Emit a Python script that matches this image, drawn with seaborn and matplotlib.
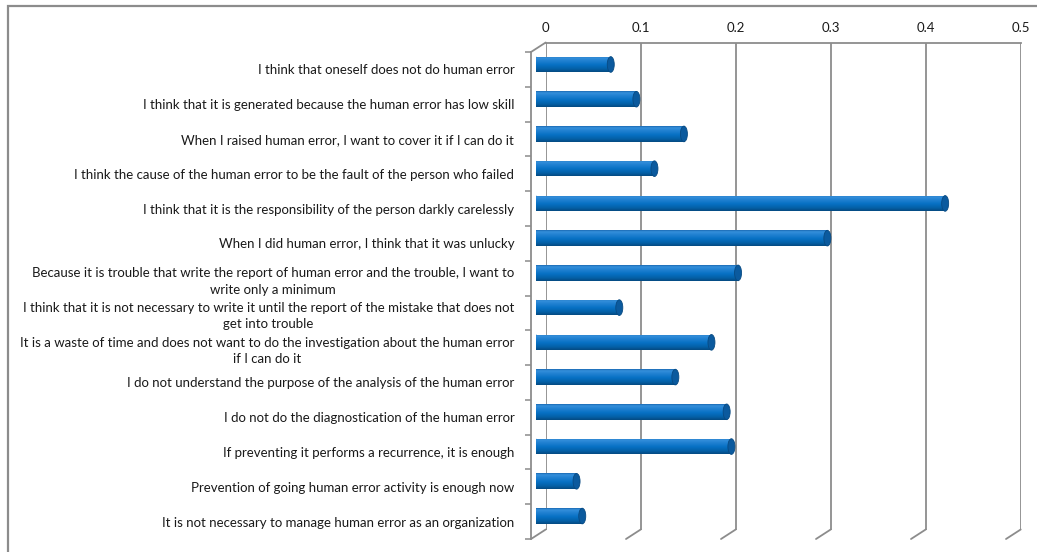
import numpy as np
import matplotlib
matplotlib.use("Agg")
import matplotlib.pyplot as plt
from matplotlib.patches import Ellipse, Rectangle
from matplotlib.lines import Line2D
from matplotlib.colors import LinearSegmentedColormap
import seaborn as sns

# ---- data -------------------------------------------------------------
categories = [
    "I think that oneself does not do human error",
    "I think that it is generated because the human error has low skill",
    "When I raised human error, I want to cover it if I can do it",
    "I think the cause of the human error to be the fault of the person who failed",
    "I think that it is the responsibility of the person darkly carelessly",
    "When I did human error, I think that it was unlucky",
    "Because it is trouble that write the report of human error and the trouble, I want to\nwrite only a minimum",
    "I think that it is not necessary to write it until the report of the mistake that does not\nget into trouble",
    "It is a waste of time and does not want to do the investigation about the human error\nif I can do it",
    "I do not understand the purpose of the analysis of the human error",
    "I do not do the diagnostication of the human error",
    "If preventing it performs a recurrence, it is enough",
    "Prevention of going human error activity is enough now",
    "It is not necessary to manage human error as an organization",
]
values = [0.079, 0.106, 0.156, 0.125, 0.431, 0.307, 0.213,
          0.088, 0.185, 0.147, 0.201, 0.206, 0.043, 0.049]
tick_values = [0.0, 0.1, 0.2, 0.3, 0.4, 0.5]
tick_labels = ["0", "0.1", "0.2", "0.3", "0.4", "0.5"]

# ---- style ------------------------------------------------------------
sns.set_style("white")
plt.rcParams["font.family"] = ["Lato", "DejaVu Sans"]
GRID = "#8c8c8c"
TEXT = "#1a1a1a"
FS = 9.5

W, H = 1037, 552
fig = plt.figure(figsize=(W / 100, H / 100), dpi=100)
fig.patch.set_facecolor("white")


def box(x, y_top, y_bot, w=475):
    return [x / W, 1 - y_bot / H, w / W, (y_bot - y_top) / H]


# back wall (grid + value axis), front plane (category axis), bar plane
ax_back = fig.add_axes(box(545.7, 42.5, 529.5))
ax_front = fig.add_axes(box(531.0, 52.0, 539.0))
ax_bars = fig.add_axes(box(535.7, 47.1, 533.4))
for a in (ax_back, ax_front, ax_bars):
    a.set_facecolor("none")
    a.set_xlim(0, 0.5)

# back wall: top edge, vertical gridlines, value labels on top
for s in ("left", "right", "bottom"):
    ax_back.spines[s].set_visible(False)
ax_back.spines["top"].set_color(GRID)
ax_back.spines["top"].set_linewidth(1.3)
ax_back.xaxis.tick_top()
ax_back.set_xticks(tick_values, labels=tick_labels)
ax_back.set_yticks([])
ax_back.tick_params(axis="x", length=0, pad=6, labelsize=FS, labelcolor=TEXT)
ax_back.grid(axis="x", color=GRID, linewidth=1.3)
ax_back.grid(axis="y", visible=False)

# front plane: left axis with category labels and boundary ticks
for s in ("top", "right", "bottom"):
    ax_front.spines[s].set_visible(False)
ax_front.spines["left"].set_color(GRID)
ax_front.spines["left"].set_linewidth(1.3)
ax_front.set_xticks([])
ax_front.set_ylim(len(categories) - 0.5, -0.5)
ax_front.set_yticks(range(len(categories)), labels=categories)
ax_front.set_yticks(np.arange(-0.5, len(categories), 1.0), minor=True)
ax_front.tick_params(axis="y", which="major", length=0, pad=12,
                     labelsize=FS, labelcolor=TEXT)
ax_front.tick_params(axis="y", which="minor", length=4, width=1.1,
                     color=GRID, left=True)
for lab in ax_front.get_yticklabels():
    lab.set_multialignment("center")
    lab.set_linespacing(1.45)
ax_front.grid(False)

# depth edges joining back wall and front plane
inv = fig.transFigure.inverted()
pairs = []
for v in tick_values:
    pb = ax_back.get_xaxis_transform().transform((v, 0))
    pf = ax_front.get_xaxis_transform().transform((v, 0))
    pairs.append((pb, pf))
pairs.append((ax_back.transAxes.transform((0, 1)),
              ax_front.transAxes.transform((0, 1))))
for pb, pf in pairs:
    a, b = inv.transform(pb), inv.transform(pf)
    fig.add_artist(Line2D([a[0], b[0]], [a[1], b[1]], color=GRID,
                          linewidth=1.3, transform=fig.transFigure))

# bars
BLUE = "#0a70c4"
sns.barplot(x=values, y=categories, orient="h", color=BLUE, width=0.45,
            saturation=1, ax=ax_bars, edgecolor="none")
ax_bars.set_xlim(0, 0.5)
ax_bars.set_ylim(len(categories) - 0.5, -0.5)
ax_bars.axis("off")

# cylinder shading
cyl = LinearSegmentedColormap.from_list("cyl", [
    (0.00, "#1a69b2"),
    (0.10, "#3590dc"),
    (0.30, "#1f80d0"),
    (0.55, "#0770c4"),
    (0.80, "#0461a8"),
    (1.00, "#054a82"),
])
grad = np.linspace(0, 1, 64).reshape(-1, 1)
cap_w = 7 * 0.5 / 475  # cap width in data units (7 px)

for patch in list(ax_bars.patches):
    x0, y0 = patch.get_x(), patch.get_y()
    w, h = patch.get_width(), patch.get_height()
    yc = y0 + h / 2
    patch.set_zorder(2)
    body = ax_bars.imshow(grad, cmap=cyl, aspect="auto", origin="upper",
                          extent=(x0 - cap_w, x0 + w, y0 + h, y0),
                          interpolation="bilinear", zorder=3)
    body.set_clip_path(patch)
    left_end = Ellipse((x0, yc), cap_w, h, transform=ax_bars.transData)
    lend = ax_bars.imshow(grad, cmap=cyl, aspect="auto", origin="upper",
                          extent=(x0 - cap_w, x0 + w, y0 + h, y0),
                          interpolation="bilinear", zorder=3)
    lend.set_clip_path(left_end)
    ax_bars.add_patch(Ellipse((x0 + w, yc), cap_w, h, facecolor="#0b5a9e",
                              edgecolor="#084a82", linewidth=0.6, zorder=4))

ax_bars.set_xlim(0, 0.5)
ax_bars.set_ylim(len(categories) - 0.5, -0.5)

# chart frame (cropped at the right and bottom edges)
fig.add_artist(Rectangle((8.3 / W, -0.1), 1.2, 1 - 6.3 / H + 0.1,
                         transform=fig.transFigure, fill=False,
                         edgecolor=GRID, linewidth=1.6))

fig.savefig("out.png", dpi=100, facecolor="white")
